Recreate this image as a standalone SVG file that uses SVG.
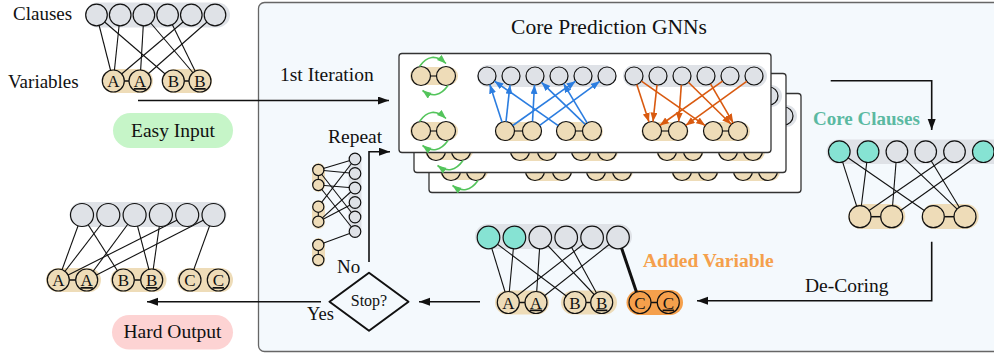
<svg xmlns="http://www.w3.org/2000/svg" width="994" height="356" viewBox="0 0 994 356">
<style>
.t{font-family:"Liberation Serif","Times New Roman",serif;fill:#111}
.lbl{font-family:"Liberation Serif","Times New Roman",serif;font-size:17px;text-anchor:middle;fill:#111}
.u{text-decoration:underline}
.clause{fill:#dfe2e7;stroke:#111;stroke-width:1.2}
.core{fill:#86e3d3;stroke:#111;stroke-width:1.2}
.var{fill:#eedcb8;stroke:#111;stroke-width:1.2}
.ovar{fill:#f5a04c;stroke:#111;stroke-width:1.2}
.band{fill:#dfe2e7}
.pill{fill:#eedcb8}
.edge{stroke:#111;stroke-width:1.1;fill:none}
.conn{stroke:#111;stroke-width:1.6;fill:none}
.blue{stroke:#2b7de0;stroke-width:1.6;fill:none;marker-end:url(#ab)}
.orange{stroke:#d95a10;stroke-width:1.6;fill:none;marker-end:url(#ao)}
.green{stroke:#53c45b;stroke-width:1.6;fill:none;marker-end:url(#ag)}
.frame{fill:#fff;stroke:#333;stroke-width:1.3}
</style>
<defs>
<marker id="ak" markerUnits="userSpaceOnUse" markerWidth="12" markerHeight="10" refX="11" refY="4" orient="auto"><path d="M0,0 L11,4 L0,8 z" fill="#111"/></marker>
<marker id="ab" markerUnits="userSpaceOnUse" markerWidth="10" markerHeight="8" refX="9" refY="3.5" orient="auto"><path d="M0,0 L9,3.5 L0,7 z" fill="#2b7de0"/></marker>
<marker id="ao" markerUnits="userSpaceOnUse" markerWidth="10" markerHeight="8" refX="9" refY="3.5" orient="auto"><path d="M0,0 L9,3.5 L0,7 z" fill="#d95a10"/></marker>
<marker id="ag" markerUnits="userSpaceOnUse" markerWidth="10" markerHeight="8" refX="9" refY="3.5" orient="auto"><path d="M0,0 L9,3.5 L0,7 z" fill="#53c45b"/></marker>
<g id="frame">
  <rect class="frame" x="399" y="53.5" width="372" height="99" rx="3"/>
  <rect class="pill" x="410" y="67" width="48" height="18" rx="9"/>
  <rect class="pill" x="410" y="122" width="48" height="18" rx="9"/>
  <line class="edge" x1="430.5" y1="76" x2="436.5" y2="76" stroke-width="1.5"/>
  <line class="edge" x1="430.5" y1="131" x2="436.5" y2="131" stroke-width="1.5"/>
  <circle class="var" cx="421" cy="76" r="9.5"/><circle class="var" cx="446" cy="76" r="9.5"/>
  <circle class="var" cx="421" cy="131" r="9.5"/><circle class="var" cx="446" cy="131" r="9.5"/>
  <path class="green" d="M419.5,66.5 Q431,50 446,63.5"/>
  <path class="green" d="M448,85.5 Q437,101 422.5,90.5"/>
  <path class="green" d="M419.5,121.5 Q431,105 446,118.5"/>
  <path class="green" d="M448,140.5 Q437,156 422.5,145.5"/>
  <rect class="band" x="477" y="65" width="138" height="22" rx="11"/>
  <rect class="pill" x="495" y="122" width="47" height="19" rx="9.5"/>
  <rect class="pill" x="557" y="122" width="46" height="19" rx="9.5"/>
  <circle class="clause" cx="487" cy="76" r="9"/><circle class="clause" cx="511" cy="76" r="9"/><circle class="clause" cx="535" cy="76" r="9"/><circle class="clause" cx="559" cy="76" r="9"/><circle class="clause" cx="583" cy="76" r="9"/><circle class="clause" cx="607" cy="76" r="9"/>
  <line class="edge" x1="514.5" y1="131" x2="522.5" y2="131" stroke-width="1.5"/>
  <line class="edge" x1="575.5" y1="131" x2="582.5" y2="131" stroke-width="1.5"/>
  <circle class="var" cx="505" cy="131" r="9.5"/><circle class="var" cx="532" cy="131" r="9.5"/><circle class="var" cx="566" cy="131" r="9.5"/><circle class="var" cx="592" cy="131" r="9.5"/>
  <line class="blue" x1="502" y1="122" x2="489.8" y2="84.6"/>
  <line class="blue" x1="506" y1="121.6" x2="510" y2="84.9"/>
  <line class="blue" x1="558.2" y1="125.6" x2="494.4" y2="81.1"/>
  <line class="blue" x1="532.5" y1="121.5" x2="534.5" y2="85"/>
  <line class="blue" x1="585.2" y1="124.4" x2="541.5" y2="82.3"/>
  <line class="blue" x1="587.1" y1="122.9" x2="563.6" y2="83.7"/>
  <line class="blue" x1="512.8" y1="125.5" x2="575.6" y2="81.2"/>
  <line class="blue" x1="539.7" y1="125.4" x2="599.7" y2="81.3"/>
  <rect class="band" x="623" y="65" width="144" height="22" rx="11"/>
  <rect class="pill" x="641.5" y="122" width="47" height="19" rx="9.5"/>
  <rect class="pill" x="703" y="122" width="47" height="19" rx="9.5"/>
  <circle class="clause" cx="634" cy="76" r="9"/><circle class="clause" cx="658" cy="76" r="9"/><circle class="clause" cx="682" cy="76" r="9"/><circle class="clause" cx="706" cy="76" r="9"/><circle class="clause" cx="730" cy="76" r="9"/><circle class="clause" cx="754" cy="76" r="9"/>
  <line class="edge" x1="661.5" y1="131" x2="668.5" y2="131" stroke-width="1.5"/>
  <line class="edge" x1="722.5" y1="131" x2="728.5" y2="131" stroke-width="1.5"/>
  <circle class="var" cx="652" cy="131" r="9.5"/><circle class="var" cx="678" cy="131" r="9.5"/><circle class="var" cx="713" cy="131" r="9.5"/><circle class="var" cx="738" cy="131" r="9.5"/>
  <line class="orange" x1="636.8" y1="84.6" x2="649" y2="122"/>
  <line class="orange" x1="657" y1="84.9" x2="653" y2="121.6"/>
  <line class="orange" x1="641.4" y1="81.1" x2="705.2" y2="125.6"/>
  <line class="orange" x1="681.3" y1="85" x2="678.7" y2="121.5"/>
  <line class="orange" x1="688.4" y1="82.3" x2="731.2" y2="124.3"/>
  <line class="orange" x1="710.5" y1="83.8" x2="733.2" y2="122.8"/>
  <line class="orange" x1="722.6" y1="81.2" x2="659.8" y2="125.5"/>
  <line class="orange" x1="746.7" y1="81.3" x2="685.7" y2="125.4"/>
</g>
</defs>

<g id="core-prediction-panel">
  <rect x="258.5" y="2.5" width="800" height="349" rx="6" fill="#f4f9fd" stroke="#666" stroke-width="1.3"/>
  <text class="t" x="609" y="34" font-size="21.5" text-anchor="middle">Core Prediction GNNs</text>
</g>

<g id="gnn-iterations">
  <use href="#frame" transform="translate(30,40)"/>
  <use href="#frame" transform="translate(15,20)"/>
  <use href="#frame"/>
</g>

<g id="easy-input-graph">
  <text class="t" x="13" y="20" font-size="19">Clauses</text>
  <text class="t" x="8" y="88" font-size="19">Variables</text>
  <rect class="band" x="85" y="2.5" width="145" height="25" rx="12.5"/>
  <rect class="pill" x="102" y="69" width="51" height="24" rx="12"/>
  <rect class="pill" x="162" y="69" width="50" height="24" rx="12"/>
  <g class="edge">
    <line x1="96.5" y1="15" x2="113.3" y2="81"/><line x1="120.2" y1="15" x2="113.3" y2="81"/><line x1="96.5" y1="15" x2="173.3" y2="81"/><line x1="143.9" y1="15" x2="140" y2="81"/><line x1="143.9" y1="15" x2="200" y2="81"/><line x1="167.6" y1="15" x2="200" y2="81"/><line x1="191.3" y1="15" x2="113.3" y2="81"/><line x1="215" y1="15" x2="140" y2="81"/>
    <line x1="124" y1="81" x2="129.5" y2="81" stroke-width="1.5"/><line x1="184" y1="81" x2="189.5" y2="81" stroke-width="1.5"/>
  </g>
  <circle class="clause" cx="96.5" cy="15" r="10.8"/><circle class="clause" cx="120.2" cy="15" r="10.8"/><circle class="clause" cx="143.9" cy="15" r="10.8"/><circle class="clause" cx="167.6" cy="15" r="10.8"/><circle class="clause" cx="191.3" cy="15" r="10.8"/><circle class="clause" cx="215" cy="15" r="10.8"/>
  <circle class="var" cx="113.3" cy="81" r="11"/><circle class="var" cx="140" cy="81" r="11"/><circle class="var" cx="173.3" cy="81" r="11"/><circle class="var" cx="200" cy="81" r="11"/>
  <text class="lbl" x="113.3" y="87">A</text><text class="lbl u" x="140" y="87">A</text><text class="lbl" x="173.3" y="87">B</text><text class="lbl u" x="200" y="87">B</text>
</g>

<g id="easy-input">
  <rect x="113" y="113" width="120" height="35" rx="17.5" fill="#c6f5c8"/>
  <text class="t" x="173" y="136.5" font-size="19.5" text-anchor="middle">Easy Input</text>
</g>

<g id="hard-output-graph">
  <rect class="band" x="69.5" y="202" width="157" height="25" rx="12.5"/>
  <rect class="pill" x="46" y="268" width="55" height="24" rx="12"/>
  <rect class="pill" x="110.5" y="268" width="56" height="24" rx="12"/>
  <rect class="pill" x="177" y="268" width="56" height="24" rx="12"/>
  <g class="edge">
    <line x1="82" y1="215" x2="58.3" y2="280"/><line x1="108.3" y1="215" x2="58.3" y2="280"/><line x1="82" y1="215" x2="123.3" y2="280"/><line x1="134.6" y1="215" x2="86.7" y2="280"/><line x1="134.6" y1="215" x2="151.7" y2="280"/><line x1="160.9" y1="215" x2="151.7" y2="280"/><line x1="187.2" y1="215" x2="58.3" y2="280"/><line x1="213.5" y1="215" x2="86.7" y2="280"/><line x1="213.5" y1="215" x2="190" y2="280"/>
    <line x1="69" y1="280" x2="76" y2="280" stroke-width="1.5"/><line x1="134" y1="280" x2="141" y2="280" stroke-width="1.5"/>
  </g>
  <circle class="clause" cx="82" cy="215" r="11.5"/><circle class="clause" cx="108.3" cy="215" r="11.5"/><circle class="clause" cx="134.6" cy="215" r="11.5"/><circle class="clause" cx="160.9" cy="215" r="11.5"/><circle class="clause" cx="187.2" cy="215" r="11.5"/><circle class="clause" cx="213.5" cy="215" r="11.5"/>
  <circle class="var" cx="58.3" cy="280" r="11"/><circle class="var" cx="86.7" cy="280" r="11"/><circle class="var" cx="123.3" cy="280" r="11"/><circle class="var" cx="151.7" cy="280" r="11"/><circle class="var" cx="190" cy="280" r="11"/><circle class="var" cx="218.3" cy="280" r="11"/>
  <text class="lbl" x="58.3" y="286">A</text><text class="lbl u" x="86.7" y="286">A</text><text class="lbl" x="123.3" y="286">B</text><text class="lbl u" x="151.7" y="286">B</text><text class="lbl" x="190" y="286">C</text><text class="lbl u" x="218.3" y="286">C</text>
</g>

<g id="hard-output">
  <rect x="112" y="315" width="121" height="34.5" rx="17.25" fill="#fdd3d3"/>
  <text class="t" x="172.5" y="338" font-size="19.5" text-anchor="middle">Hard Output</text>
</g>

<g id="repeat-graph">
  <rect class="pill" x="312" y="163" width="13" height="29" rx="6.5"/>
  <rect class="pill" x="312" y="200" width="13" height="29" rx="6.5"/>
  <rect class="pill" x="312" y="238" width="13" height="29" rx="6.5"/>
  <rect class="band" x="348.5" y="153" width="13" height="85" rx="6.5"/>
  <g class="edge">
    <line x1="318.3" y1="170" x2="355" y2="159"/><line x1="318.3" y1="170" x2="355" y2="173.5"/><line x1="318.3" y1="170" x2="355" y2="217"/>
    <line x1="318.3" y1="185" x2="355" y2="188"/><line x1="318.3" y1="185" x2="355" y2="231.5"/>
    <line x1="318.3" y1="206.7" x2="355" y2="159"/>
    <line x1="318.3" y1="221.7" x2="355" y2="188"/><line x1="318.3" y1="221.7" x2="355" y2="202.5"/>
    <line x1="318.3" y1="245" x2="355" y2="231.5"/>
    <line x1="318.3" y1="170" x2="318.3" y2="185"/><line x1="318.3" y1="206.7" x2="318.3" y2="221.7"/><line x1="318.3" y1="245" x2="318.3" y2="260"/>
  </g>
  <circle class="var" cx="318.3" cy="170" r="5.6"/><circle class="var" cx="318.3" cy="185" r="5.6"/><circle class="var" cx="318.3" cy="206.7" r="5.6"/><circle class="var" cx="318.3" cy="221.7" r="5.6"/><circle class="var" cx="318.3" cy="245" r="5.6"/><circle class="var" cx="318.3" cy="260" r="5.6"/>
  <circle class="clause" cx="355" cy="159" r="5.8"/><circle class="clause" cx="355" cy="173.5" r="5.8"/><circle class="clause" cx="355" cy="188" r="5.8"/><circle class="clause" cx="355" cy="202.5" r="5.8"/><circle class="clause" cx="355" cy="217" r="5.8"/><circle class="clause" cx="355" cy="231.5" r="5.8"/>
</g>

<g id="stop">
  <polygon points="329.5,301.7 369,272.7 408.5,301.7 369,330.7" fill="none" stroke="#111" stroke-width="2" stroke-linejoin="round"/>
  <text class="t" x="369" y="306" font-size="16" text-anchor="middle">Stop?</text>
</g>

<g id="core-clauses-graph">
  <text class="t" x="813" y="125" font-size="19" font-weight="bold" style="fill:#5bb9a2">Core Clauses</text>
  <rect class="band" x="826.5" y="139.5" width="180" height="24.5" rx="12.25"/>
  <rect class="pill" x="848.3" y="204" width="57" height="25" rx="12.5"/>
  <rect class="pill" x="921.7" y="204" width="57" height="25" rx="12.5"/>
  <g class="edge">
    <line x1="839.3" y1="151.7" x2="860" y2="216.7"/><line x1="868.1" y1="151.7" x2="860" y2="216.7"/><line x1="839.3" y1="151.7" x2="933.3" y2="216.7"/><line x1="896.9" y1="151.7" x2="891.7" y2="216.7"/><line x1="896.9" y1="151.7" x2="965" y2="216.7"/><line x1="925.7" y1="151.7" x2="965" y2="216.7"/><line x1="954.5" y1="151.7" x2="860" y2="216.7"/><line x1="983.3" y1="151.7" x2="891.7" y2="216.7"/>
    <line x1="871" y1="216.7" x2="880.7" y2="216.7" stroke-width="1.5"/><line x1="944.3" y1="216.7" x2="954" y2="216.7" stroke-width="1.5"/>
  </g>
  <circle class="core" cx="839.3" cy="151.7" r="10.8"/><circle class="core" cx="868.1" cy="151.7" r="10.8"/><circle class="clause" cx="896.9" cy="151.7" r="10.8"/><circle class="clause" cx="925.7" cy="151.7" r="10.8"/><circle class="clause" cx="954.5" cy="151.7" r="10.8"/><circle class="core" cx="983.3" cy="151.7" r="10.8"/>
  <circle class="var" cx="860" cy="216.7" r="11"/><circle class="var" cx="891.7" cy="216.7" r="11"/><circle class="var" cx="933.3" cy="216.7" r="11"/><circle class="var" cx="965" cy="216.7" r="11"/>
</g>

<g id="decored-graph">
  <rect class="band" x="475" y="224" width="157" height="25" rx="12.5"/>
  <rect class="pill" x="495" y="290.5" width="54" height="24" rx="12"/>
  <rect class="pill" x="561" y="290.5" width="56" height="24" rx="12"/>
  <rect x="626.5" y="290" width="56.5" height="25" rx="12.5" fill="#f5a04c"/>
  <g class="edge">
    <line x1="488.5" y1="237.5" x2="508.3" y2="302.5"/><line x1="514.4" y1="237.5" x2="508.3" y2="302.5"/><line x1="488.5" y1="237.5" x2="575" y2="302.5"/><line x1="540.3" y1="237.5" x2="536" y2="302.5"/><line x1="540.3" y1="237.5" x2="601.7" y2="302.5"/><line x1="566.2" y1="237.5" x2="601.7" y2="302.5"/><line x1="592.1" y1="237.5" x2="508.3" y2="302.5"/><line x1="618" y1="237.5" x2="536" y2="302.5"/>
    <line x1="519" y1="302.5" x2="525.5" y2="302.5" stroke-width="1.5"/><line x1="585.5" y1="302.5" x2="591" y2="302.5" stroke-width="1.5"/><line x1="650.5" y1="302.5" x2="657.5" y2="302.5" stroke-width="1.5"/>
    <line x1="618" y1="237.5" x2="640" y2="302.5" stroke-width="3"/>
  </g>
  <circle class="core" cx="488.5" cy="237.5" r="11.3"/><circle class="core" cx="514.4" cy="237.5" r="11.3"/><circle class="clause" cx="540.3" cy="237.5" r="11.3"/><circle class="clause" cx="566.2" cy="237.5" r="11.3"/><circle class="clause" cx="592.1" cy="237.5" r="11.3"/><circle class="clause" cx="618" cy="237.5" r="11.3"/>
  <circle class="var" cx="508.3" cy="302.5" r="11"/><circle class="var" cx="536" cy="302.5" r="11"/><circle class="var" cx="575" cy="302.5" r="11"/><circle class="var" cx="601.7" cy="302.5" r="11"/>
  <circle class="ovar" cx="640" cy="302.5" r="11"/><circle class="ovar" cx="668.3" cy="302.5" r="11"/>
  <text class="lbl" x="508.3" y="308.5">A</text><text class="lbl u" x="536" y="308.5">A</text><text class="lbl" x="575" y="308.5">B</text><text class="lbl u" x="601.7" y="308.5">B</text><text class="lbl" x="640" y="308.5">C</text><text class="lbl u" x="668.3" y="308.5">C</text>
  <text class="t" x="643" y="267" font-size="19.5" font-weight="bold" style="fill:#f5a04c">Added Variable</text>
</g>

<g id="connectors">
  <line class="conn" x1="138" y1="100.5" x2="389" y2="100.5" marker-end="url(#ak)"/>
  <text class="t" x="280" y="81" font-size="19.5">1st Iteration</text>
  <polyline class="conn" points="830.7,80.7 931.7,80.7 931.7,130" marker-end="url(#ak)"/>
  <polyline class="conn" points="931.7,241.7 931.7,300.8 697,300.8" marker-end="url(#ak)"/>
  <text class="t" x="805" y="292" font-size="19.5">De-Coring</text>
  <line class="conn" x1="480" y1="301.7" x2="419" y2="301.7" marker-end="url(#ak)"/>
  <polyline class="conn" points="369,262 369,151.7 390,151.7" marker-end="url(#ak)"/>
  <text class="t" x="328" y="143" font-size="19.5">Repeat</text>
  <text class="t" x="337" y="273" font-size="19">No</text>
  <line class="conn" x1="321" y1="301.7" x2="147" y2="301.7" marker-end="url(#ak)"/>
  <text class="t" x="307" y="320" font-size="18.5">Yes</text>
</g>
</svg>
